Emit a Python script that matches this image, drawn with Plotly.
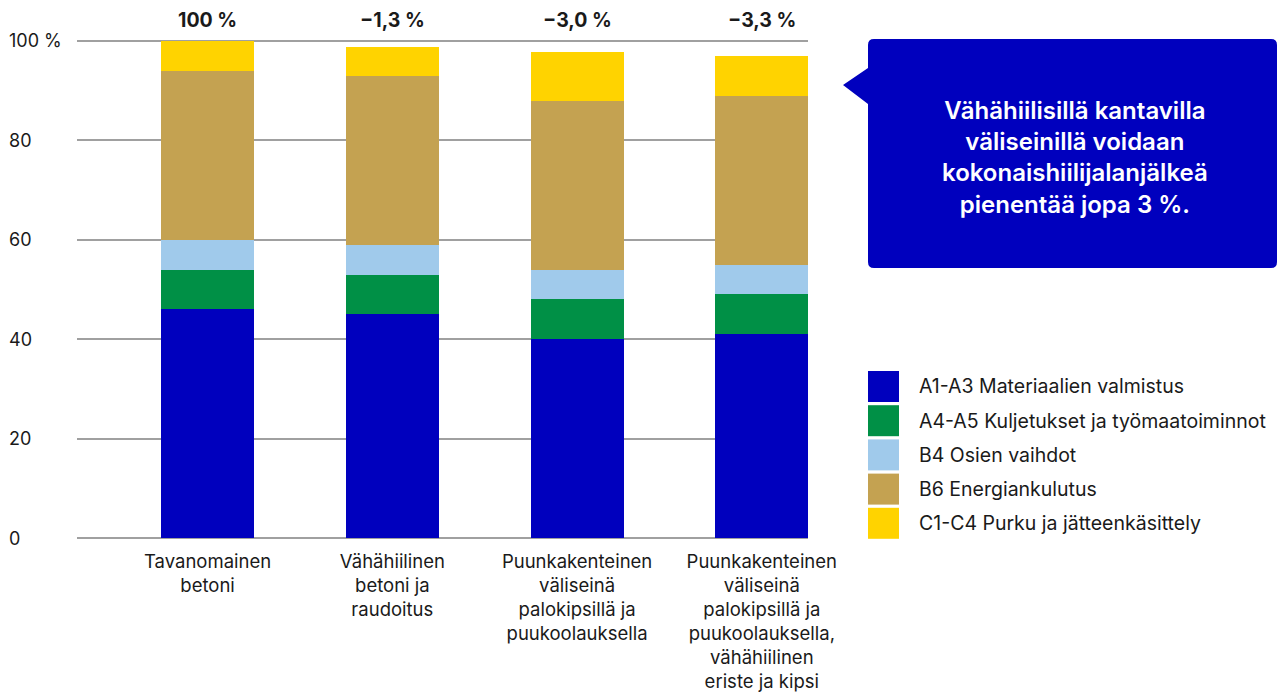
import plotly.graph_objects as go

# ---------------- data ----------------
categories = [
    "Tavanomainen<br>betoni",
    "Vähähiilinen<br>betoni ja<br>raudoitus",
    "Puunkakenteinen<br>väliseinä<br>palokipsillä ja<br>puukoolauksella",
    "Puunkakenteinen<br>väliseinä<br>palokipsillä ja<br>puukoolauksella,<br>vähähiilinen<br>eriste ja kipsi",
]
series_names = [
    "A1-A3 Materiaalien valmistus",
    "A4-A5 Kuljetukset ja työmaatoiminnot",
    "B4 Osien vaihdot",
    "B6 Energiankulutus",
    "C1-C4 Purku ja jätteenkäsittely",
]
a1_a3 = [46, 45, 40, 41]
a4_a5 = [8, 8, 8, 8]
b4 = [6, 6, 6, 6]
b6 = [34, 34, 34, 34]
c1_c4 = [6, 5.8, 9.8, 7.9]
change_labels = ["100 %", "\u22121,3 %", "\u22123,0 %", "\u22123,3 %"]
y_tick_values = [0, 20, 40, 60, 80, 100]
y_tick_labels = ["0", "20", "40", "60", "80", "100 %"]
callout_text = ("Vähähiilisillä kantavilla<br>väliseinillä voidaan<br>"
                "kokonaishiilijalanjälkeä<br>pienentää jopa 3 %.")

series_values = [a1_a3, a4_a5, b4, b6, c1_c4]
colors = ["#0000BE", "#009046", "#A0CAEB", "#C4A251", "#FFD300"]

# ---------------- layout geometry ----------------
W_PX, H_PX = 1280, 693
L, R, T, B = 77, 472, 31, 155
PW = W_PX - L - R
PH = H_PX - T - B


def px(p):
    return (p - L) / PW


def py(p):
    return (H_PX - B - p) / PH


FONT = "Inter, Roboto, sans-serif"
TXT = "#1a1a1a"

fig = go.Figure()
for name, vals, col in zip(series_names, series_values, colors):
    fig.add_trace(go.Bar(
        x=categories, y=vals, name=name, marker=dict(color=col, line=dict(width=0)),
        showlegend=False, hoverinfo="skip",
    ))

fig.update_layout(
    barmode="stack",
    bargap=0.496,
    width=W_PX, height=H_PX,
    margin=dict(l=L, r=R, t=T, b=B, pad=0, autoexpand=False),
    plot_bgcolor="white", paper_bgcolor="white",
    font=dict(family=FONT, size=18, color=TXT),
    xaxis=dict(
        type="category", range=[-0.707, 3.25], showgrid=False, zeroline=False,
        showline=False, ticks="", tickfont=dict(size=18.5, color=TXT),
        ticklabelstandoff=10, automargin=False,
    ),
    yaxis=dict(
        range=[0, 102], tickvals=y_tick_values, showticklabels=False,
        showgrid=True, gridcolor="#A0A0A0", gridwidth=1.5,
        zeroline=True, zerolinecolor="#A0A0A0", zerolinewidth=1.5,
        showline=False, ticks="", automargin=False,
    ),
)

annotations = []
# y tick labels (left aligned)
for v, t in zip(y_tick_values, y_tick_labels):
    annotations.append(dict(
        x=px(7), xref="paper", y=v, yref="y", text=t, showarrow=False,
        xanchor="left", yanchor="middle", font=dict(size=18, color=TXT, family=FONT),
    ))
# change labels above bars
for c, t in zip(categories, change_labels):
    annotations.append(dict(
        x=c, xref="x", y=py(20), yref="paper", text="<b>" + t + "</b>", showarrow=False,
        xanchor="center", yanchor="middle", font=dict(size=19.5, color=TXT, family=FONT),
    ))

# custom legend
shapes = []
for i, (name, col) in enumerate(zip(series_names, colors)):
    top = 371 + i * 34.2
    shapes.append(dict(
        type="rect", xref="paper", yref="paper",
        x0=px(868), x1=px(899), y0=py(top + 31), y1=py(top),
        fillcolor=col, line=dict(width=0),
    ))
    annotations.append(dict(
        x=px(917), xref="paper", y=py(top + 15.5), yref="paper", text=name,
        showarrow=False, xanchor="left", yanchor="middle",
        font=dict(size=19.5, color=TXT, family=FONT),
    ))

# callout box
r = 6
x0, x1, y0, y1 = 868, 1277, 39, 268
pts = [
    ("M", (x0 + r, y0)), ("L", (x1 - r, y0)), ("Q", (x1, y0), (x1, y0 + r)),
    ("L", (x1, y1 - r)), ("Q", (x1, y1), (x1 - r, y1)),
    ("L", (x0 + r, y1)), ("Q", (x0, y1), (x0, y1 - r)),
    ("L", (x0, 104)), ("L", (843, 85)), ("L", (x0, 68)),
    ("L", (x0, y0 + r)), ("Q", (x0, y0), (x0 + r, y0)),
]
path = ""
for seg in pts:
    cmd = seg[0]
    coords = " ".join(f"{px(a):.5f},{py(b):.5f}" for a, b in seg[1:])
    path += f"{cmd}{coords} "
path += "Z"
shapes.append(dict(type="path", xref="paper", yref="paper", path=path,
                   fillcolor="#0000BE", line=dict(width=0)))

annotations.append(dict(
    x=px((x0 + x1) / 2 + 2), xref="paper", y=py(157), yref="paper", text=callout_text,
    showarrow=False, xanchor="center", yanchor="middle", align="center",
    font=dict(size=24, color="white", family=FONT, weight=600),
))

fig.update_layout(shapes=shapes, annotations=annotations)
fig.write_html(
    "out.html",
    config={"displayModeBar": False},
    post_script="document.body.style.margin='0';document.body.style.overflow='hidden';",
)
